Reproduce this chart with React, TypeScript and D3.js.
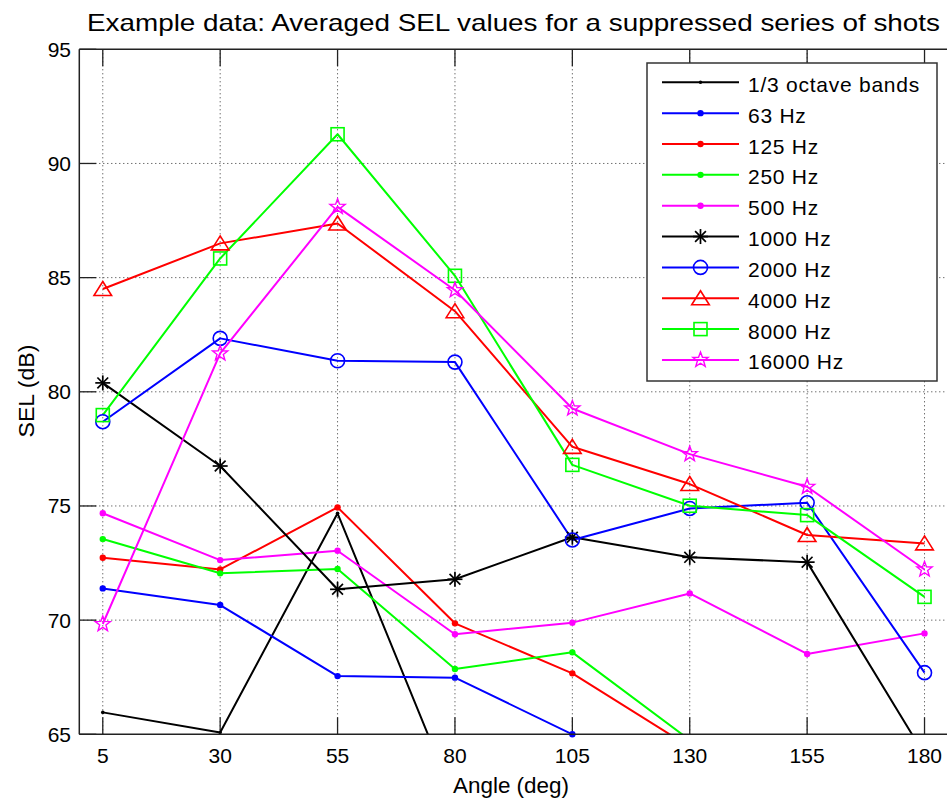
import React from "react";
import * as d3 from "d3";

const angles = [5, 30, 55, 80, 105, 130, 155, 180];
const xTicks = [5, 30, 55, 80, 105, 130, 155, 180];
const yTicks = [65, 70, 75, 80, 85, 90, 95];

const octaveBands = [65.96, 65.08, 74.68, 62.1, 61.5, 60.8, 60.5, 60.0];
const hz63 = [71.39, 70.66, 67.55, 67.48, 65.0, 63.0, 62.5, 61.8];
const hz125 = [72.73, 72.22, 74.94, 69.86, 67.67, 64.45, 63.5, 63.0];
const hz250 = [73.55, 72.05, 72.24, 67.86, 68.59, 64.75, 63.8, 63.2];
const hz500 = [74.68, 72.63, 73.04, 69.38, 69.89, 71.17, 68.52, 69.42];
const hz1000 = [80.39, 76.75, 71.35, 71.79, 73.63, 72.75, 72.54, 64.1];
const hz2000 = [78.69, 82.34, 81.36, 81.3, 73.51, 74.89, 75.14, 67.7];
const hz4000 = [84.5, 86.5, 87.37, 83.53, 77.59, 75.96, 73.73, 73.36];
const hz8000 = [78.98, 85.84, 91.28, 85.08, 76.8, 75.01, 74.6, 71.02];
const hz16000 = [69.83, 81.68, 88.1, 84.45, 79.27, 77.27, 75.84, 72.22];

const seriesNames = [
  "1/3 octave bands", "63 Hz", "125 Hz", "250 Hz", "500 Hz",
  "1000 Hz", "2000 Hz", "4000 Hz", "8000 Hz", "16000 Hz",
];
const seriesValues = [octaveBands, hz63, hz125, hz250, hz500, hz1000, hz2000, hz4000, hz8000, hz16000];
const seriesColors = ["#000000", "#0000ff", "#ff0000", "#00ff00", "#ff00ff", "#000000", "#0000ff", "#ff0000", "#00ff00", "#ff00ff"];
const seriesMarkers = ["tinydot", "dot", "dot", "dot", "dot", "asterisk", "circle", "triangle", "square", "star"];

const W = 947, H = 803;
const left = 79.3, right = 948, top = 49.3, bottom = 734.3;
const FONT = "'Liberation Sans', Arial, Helvetica, sans-serif";

function Marker({ type, x, y, color }: { type: string; x: number; y: number; color: string }) {
  const sw = 1.6;
  switch (type) {
    case "tinydot":
      return <circle cx={x} cy={y} r={1.8} fill={color} />;
    case "dot":
      return <circle cx={x} cy={y} r={3.2} fill={color} />;
    case "asterisk": {
      const r = 7.5, d = r * 0.72;
      return (
        <g stroke={color} strokeWidth={1.7} fill="none">
          <line x1={x} y1={y - r} x2={x} y2={y + r} />
          <line x1={x - r} y1={y} x2={x + r} y2={y} />
          <line x1={x - d} y1={y - d} x2={x + d} y2={y + d} />
          <line x1={x - d} y1={y + d} x2={x + d} y2={y - d} />
        </g>
      );
    }
    case "circle":
      return <circle cx={x} cy={y} r={7} fill="none" stroke={color} strokeWidth={sw} />;
    case "triangle":
      return (
        <polygon
          points={`${x},${y - 7.5} ${x + 8.8},${y + 6.5} ${x - 8.8},${y + 6.5}`}
          fill="none" stroke={color} strokeWidth={sw}
        />
      );
    case "square":
      return <rect x={x - 6.5} y={y - 6.5} width={13} height={13} fill="none" stroke={color} strokeWidth={sw} />;
    case "star": {
      const pts: string[] = [];
      for (let i = 0; i < 10; i++) {
        const rr = i % 2 === 0 ? 8 : 3.3;
        const a = -Math.PI / 2 + (i * Math.PI) / 5;
        pts.push(`${x + rr * Math.cos(a)},${y + rr * Math.sin(a)}`);
      }
      return <polygon points={pts.join(" ")} fill="none" stroke={color} strokeWidth={1.4} />;
    }
    default:
      return null;
  }
}

export default function App() {
  const x = d3.scaleLinear().domain([0, 185]).range([left, right]);
  const y = d3.scaleLinear().domain([65, 95]).range([bottom, top]);
  const line = d3.line<number>().x((_, i) => x(angles[i])).y((v) => y(v));

  const legX = 647, legY = 63, legW = 290, legH = 318;
  const rowY0 = 82.3, rowStep = 30.85;

  return (
    <svg width={W} height={H} style={{ position: "absolute", left: 0, top: 0, background: "#fff" }} fontFamily={FONT}>
      <defs>
        <clipPath id="plotclip">
          <rect x={left} y={top} width={right - left} height={bottom - top} />
        </clipPath>
      </defs>
      <rect x={0} y={0} width={W} height={H} fill="#fff" />

      {/* grid */}
      <g stroke="#333" strokeWidth={1} strokeDasharray="1,3">
        {xTicks.map((t) => (
          <line key={"gx" + t} x1={x(t)} x2={x(t)} y1={top} y2={bottom} />
        ))}
        {yTicks.filter((t) => t > 65 && t < 95).map((t) => (
          <line key={"gy" + t} x1={left} x2={right} y1={y(t)} y2={y(t)} />
        ))}
      </g>

      {/* ticks */}
      <g stroke="#222" strokeWidth={1.3}>
        {xTicks.map((t) => (
          <g key={"tx" + t}>
            <line x1={x(t)} x2={x(t)} y1={bottom} y2={bottom - 17} />
            <line x1={x(t)} x2={x(t)} y1={top} y2={top + 17} />
          </g>
        ))}
        {yTicks.map((t) => (
          <line key={"ty" + t} x1={left} x2={left + 17} y1={y(t)} y2={y(t)} />
        ))}
      </g>

      {/* series */}
      <g clipPath="url(#plotclip)" fill="none">
        {seriesValues.map((vals, si) => (
          <path key={"l" + si} d={line(vals) || ""} stroke={seriesColors[si]} strokeWidth={2} strokeLinejoin="round" />
        ))}
      </g>
      <g>
        {seriesValues.map((vals, si) =>
          vals.map((v, i) =>
            v >= 65 && v <= 95 ? (
              <Marker key={`m${si}-${i}`} type={seriesMarkers[si]} x={x(angles[i])} y={y(v)} color={seriesColors[si]} />
            ) : null
          )
        )}
      </g>

      {/* axes frame */}
      <g stroke="#222" strokeWidth={1.5} fill="none">
        <line x1={left} x2={right} y1={top} y2={top} />
        <line x1={left} x2={right} y1={bottom} y2={bottom} />
        <line x1={left} x2={left} y1={top} y2={bottom} />
      </g>

      {/* tick labels */}
      <g fontSize={21} fill="#000">
        {xTicks.map((t) => (
          <text key={"xl" + t} x={x(t)} y={762.5} textAnchor="middle">{t}</text>
        ))}
        {yTicks.map((t) => (
          <text key={"yl" + t} x={71} y={y(t) + 7.5} textAnchor="end">{t}</text>
        ))}
      </g>

      {/* legend */}
      <rect x={legX} y={legY} width={legW} height={legH} fill="#fff" stroke="#333" strokeWidth={1.5} />
      {seriesNames.map((name, si) => {
        const ry = rowY0 + si * rowStep;
        return (
          <g key={"lg" + si}>
            <line x1={662} x2={739} y1={ry} y2={ry} stroke={seriesColors[si]} strokeWidth={2} />
            <Marker type={seriesMarkers[si]} x={700.5} y={ry} color={seriesColors[si]} />
            <text x={748} y={ry + 9.5} fontSize={21} letterSpacing={0.75} fill="#000">{name}</text>
          </g>
        );
      })}

      {/* titles */}
      <text x={513.5} y={30.5} fontSize={24} textAnchor="middle" textLength={853} lengthAdjust="spacingAndGlyphs" fill="#000">
        Example data: Averaged SEL values for a suppressed series of shots
      </text>
      <text x={511} y={793} fontSize={21.5} textAnchor="middle" textLength={116} lengthAdjust="spacingAndGlyphs" fill="#000">
        Angle (deg)
      </text>
      <text transform="translate(34,391) rotate(-90)" fontSize={21.5} textAnchor="middle" textLength={93} lengthAdjust="spacingAndGlyphs" fill="#000">
        SEL (dB)
      </text>
    </svg>
  );
}
